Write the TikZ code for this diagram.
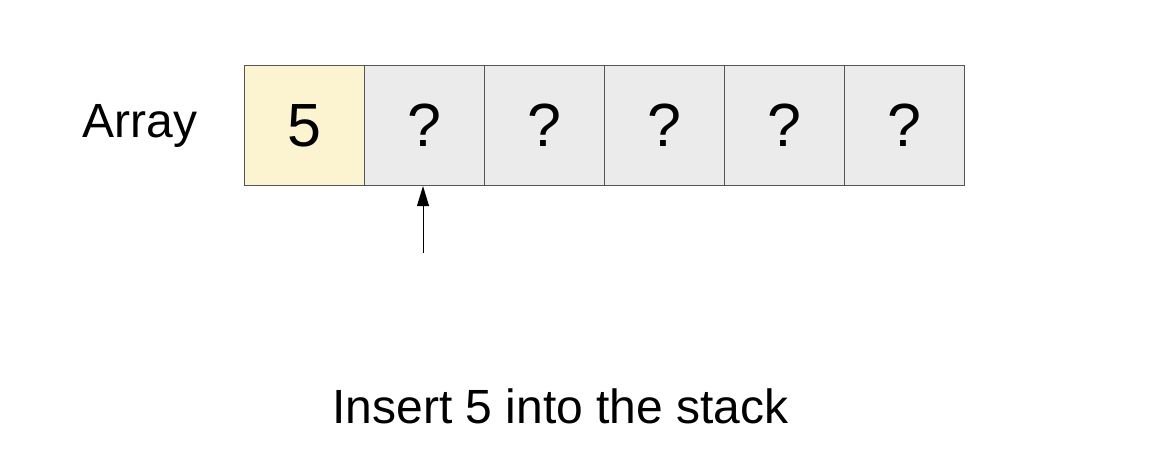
\documentclass[tikz,border=0pt]{standalone}
\usepackage{fontspec}
\setmainfont{Liberation Sans}
\usetikzlibrary{arrows.meta}
\definecolor{cellyellow}{HTML}{FCF3D0}
\definecolor{cellgrey}{HTML}{EBEBEB}
\definecolor{cellborder}{HTML}{555555}
\begin{document}
\begin{tikzpicture}[x=1pt,y=-1pt,
  cell/.style={draw=cellborder,line width=1.1pt,minimum width=120pt,minimum height=120pt,inner sep=0pt,anchor=north west,font=\fontsize{61}{61}\selectfont},
  lbl/.style={inner sep=0pt,anchor=base,font=\fontsize{48}{48}\selectfont}]
\useasboundingbox (0,0) rectangle (1158,476);
\node[cell,fill=cellyellow] (c0) at (244,65) {5};
\foreach \i in {1,...,5}{
  \node[cell,fill=cellgrey] (c\i) at (244+120*\i,65) {?};
}
\node[lbl] (arr) at (140,137) {Array};
\coordinate (base) at (423,253);
\draw[line width=1pt,-{Triangle[length=20pt,width=12pt]}] (base) -- (base |- c1.south);
\node[lbl] (cap) at (560.5,423) {Insert 5 into the stack};
\end{tikzpicture}
\end{document}
